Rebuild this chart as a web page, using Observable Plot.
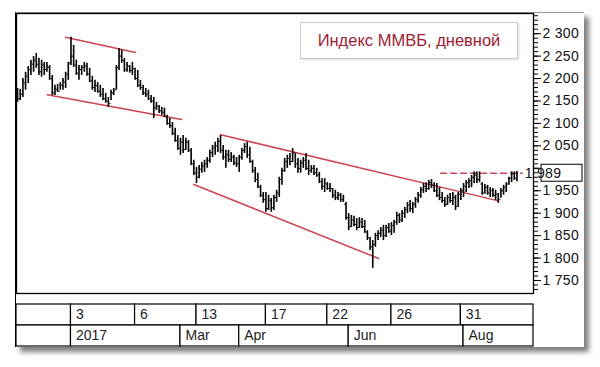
<!DOCTYPE html>
<html><head><meta charset="utf-8">
<script src="https://cdn.jsdelivr.net/npm/d3@7"></script>
<script src="https://cdn.jsdelivr.net/npm/@observablehq/plot@0.6"></script>
<style>
body{margin:0;background:#fff;}
#wrap{position:relative;width:600px;height:367px;overflow:hidden;background:#fff;font-family:"Liberation Sans",Arial,sans-serif;}
#panel{position:absolute;left:15px;top:12px;width:568px;height:334px;background:#fff;box-shadow:5px 5px 5px rgba(0,0,0,0.5);border-top:1px solid #999;border-left:1px solid #000;}
#main{position:absolute;left:0;top:0;}
#rows{position:absolute;left:0;top:300px;}
#title{position:absolute;left:300px;top:22px;width:218px;height:37px;box-sizing:border-box;border:1px solid #ccc;box-shadow:1px 1px 2px #ddd;background:#fff;color:#9e1b32;font-size:16.5px;text-align:center;line-height:35px;}
</style></head>
<body>
<div id="wrap"><div id="panel"></div><div id="main"></div><div id="rows"></div><div id="title">Индекс ММВБ, дневной</div></div>
<script>
// Daily OHLC of the MICEX index (bar index = trading day, Dec 2016 – Sep 2017)
const hi = [2178,2176,2200,2214,2227,2241,2249,2256,2245,2241, 2236,2236,2229,2207,2185,2187,2191,2200,2214,2236,
2292,2274,2241,2229,2229,2236,2234,2223,2205,2196, 2191,2185,2178,2167,2158,2174,2178,2229,2267,2263,
2245,2236,2229,2236,2223,2218,2196,2185,2178,2174, 2162,2158,2147,2140,2136,2134,2118,2111,2102,2089,
2073,2067,2073,2067,2062,2044,2018,2002,2006,2013, 2018,2024,2040,2051,2058,2067,2073,2051,2040,2040,
2035,2029,2024,2029,2044,2055,2058,2047,2018,2002, 1989,1962,1946,1946,1940,1933,1940,1951,1980,2000,
2022,2029,2033,2044,2033,2022,2018,2024,2033,2018, 2006,2006,2000,1991,1977,1977,1968,1966,1955,1951,
1946,1944,1940,1924,1899,1895,1893,1888,1890,1888, 1884,1861,1846,1839,1855,1861,1868,1873,1873,1877,
1879,1884,1902,1899,1906,1913,1924,1928,1924,1935, 1946,1957,1966,1968,1973,1975,1968,1966,1957,1946,
1935,1940,1944,1946,1940,1946,1955,1966,1973,1977, 1984,1992,1992,1992,1968,1964,1962,1957,1955,1951,
1944,1955,1962,1968,1980,1992,1992,1993];
const lo = [2147,2151,2158,2174,2189,2207,2214,2223,2207,2203, 2207,2214,2196,2162,2162,2169,2174,2174,2178,2196,
2229,2225,2207,2196,2207,2214,2205,2191,2174,2169, 2167,2158,2151,2145,2136,2151,2162,2174,2218,2234,
2214,2214,2212,2207,2196,2180,2174,2162,2158,2151, 2145,2111,2129,2122,2118,2113,2096,2089,2073,2058,
2040,2029,2033,2040,2035,2006,1984,1966,1977,1989, 1991,2000,2011,2024,2029,2035,2033,2018,2000,2013,
2013,2006,2002,1991,2018,2033,2022,2011,1989,1968, 1955,1935,1922,1902,1906,1902,1906,1924,1935,1962,
1991,2000,2006,2013,2000,1989,1989,2000,1995,1984, 1989,1984,1980,1966,1951,1946,1951,1946,1933,1928,
1928,1924,1924,1884,1861,1868,1870,1861,1866,1866, 1855,1839,1817,1777,1824,1839,1846,1839,1846,1855,
1850,1855,1873,1877,1879,1888,1899,1902,1899,1911, 1922,1933,1944,1946,1951,1955,1946,1935,1928,1922,
1913,1917,1922,1917,1906,1913,1928,1935,1946,1955, 1957,1966,1966,1968,1940,1942,1940,1935,1935,1928,
1922,1933,1940,1946,1962,1968,1973,1970];
const op = [2170,2155,2165,2190,2205,2220,2232,2240,2232,2215, 2230,2220,2225,2200,2168,2176,2172,2185,2192,2210,
2235,2250,2230,2212,2220,2225,2228,2210,2195,2180, 2184,2172,2165,2155,2150,2145,2168,2175,2225,2250,
2240,2220,2228,2218,2222,2200,2185,2180,2168,2165, 2155,2150,2135,2138,2128,2125,2115,2100,2095,2078,
2062,2045,2058,2042,2058,2040,2010,1990,1980,1998, 2005,2010,2018,2035,2045,2050,2060,2040,2025,2030,
2020,2025,2012,2010,2025,2040,2048,2030,2015,1995, 1975,1958,1940,1930,1910,1928,1912,1935,1945,1975,
1995,2015,2022,2015,2035,2010,2000,2012,2018,2000, 1995,2000,1990,1985,1970,1960,1965,1955,1955,1940,
1935,1940,1930,1920,1890,1870,1885,1875,1868,1880, 1870,1858,1845,1825,1830,1850,1855,1862,1850,1868,
1860,1872,1880,1895,1885,1900,1908,1918,1910,1920, 1930,1940,1952,1960,1955,1968,1962,1950,1940,1935,
1928,1920,1935,1928,1935,1915,1942,1950,1960,1968, 1972,1980,1985,1975,1965,1945,1958,1945,1950,1940,
1942,1930,1950,1958,1965,1978,1988,1978];
const cl = [2155,2168,2195,2208,2222,2235,2243,2230,2215,2232, 2220,2228,2200,2168,2178,2172,2186,2195,2210,2230,
2250,2232,2212,2222,2225,2230,2210,2195,2180,2185, 2172,2165,2155,2150,2140,2170,2172,2222,2250,2240,
2220,2230,2218,2225,2200,2185,2180,2168,2165,2155, 2150,2135,2140,2128,2125,2118,2100,2095,2078,2062,
2045,2060,2040,2060,2040,2010,1990,1980,2000,2005, 2010,2018,2035,2045,2050,2060,2040,2025,2030,2020,
2028,2012,2010,2025,2040,2048,2030,2015,1995,1975, 1960,1940,1930,1910,1930,1912,1935,1945,1975,1995,
2015,2022,2015,2035,2010,2000,2012,2018,2000,1995, 2000,1990,1985,1970,1960,1968,1955,1960,1940,1935,
1940,1930,1935,1890,1870,1885,1875,1868,1882,1870, 1860,1845,1825,1830,1850,1855,1862,1850,1868,1860,
1875,1880,1895,1885,1900,1908,1918,1910,1920,1930, 1940,1952,1960,1955,1968,1962,1950,1940,1935,1928,
1920,1935,1928,1940,1915,1942,1950,1960,1968,1972, 1980,1985,1975,1980,1945,1958,1945,1950,1940,1945,
1930,1950,1958,1965,1978,1988,1980,1989];

// Trend lines drawn by the analyst: [bar index, value]
const upper1 = [[17.95, 2292], [44.16, 2258]];
const lower1 = [[11.1, 2164], [61.4, 2109]];
const upper2 = [[76, 2075], [179.7, 1928]];
const lower2 = [[66, 1964], [135.2, 1799]];
const resist = [[158.4, 1989], [189, 1989]];

// Y axis
const yMajor = [1750,1800,1850,1900,1950,2000,2050,2100,2150,2200,2250,2300];
const yLabels = [1750,1800,1850,1900,1950,2050,2100,2150,2200,2250,2300];

// Bottom time rows: bar index where each cell starts, and its label
const weekIdx = [20, 44, 67, 93, 116, 140, 166];
const weekLbl = ["3", "6", "13", "17", "22", "26", "31"];
const monthIdx = [20, 61, 83, 124, 167];
const monthLbl = ["2017", "Mar", "Apr", "Jun", "Aug"];

const xDomain = [-0.4, 193.2];
const yDomain = [1721, 2345];
const fmt = d => d3.format(",")(d).replace(",", " ");
const bars = hi.map((h, i) => ({i, hi: h, lo: lo[i], o: op[i], c: cl[i]}));
const trend = [upper1, lower1, upper2, lower2].flatMap((seg, k) => seg.map(([i, v]) => ({i, v, k})));
const resistData = resist.map(([i, v]) => ({i, v}));
const lastValue = cl[cl.length - 1];
const red = "#cc4455";
const font = "'Liberation Sans', Arial, sans-serif";

function lastBox(index, scales, values, dimensions) {
  const y = scales.y(lastValue);
  const x0 = dimensions.width - dimensions.marginRight + 8;
  const g = d3.create("svg:g");
  g.append("rect").attr("x", x0).attr("y", y - 8.5).attr("width", 41).attr("height", 17)
    .attr("fill", "white").attr("stroke", "black");
  g.append("text").attr("x", x0 + 2).attr("y", y).attr("dy", "0.35em")
    .attr("font-size", 14).attr("letter-spacing", "0.3px").attr("fill", "#111").text(fmt(lastValue));
  return g.node();
}

const main = Plot.plot({
  width: 600, height: 300,
  marginLeft: 16, marginRight: 67, marginTop: 13, marginBottom: 7,
  style: {fontFamily: font, fontSize: "14px", color: "#111", background: "transparent", overflow: "visible", letterSpacing: "0.3px"},
  x: {domain: xDomain, axis: null},
  y: {domain: yDomain, axis: null},
  marks: [
    Plot.frame({stroke: "#000", strokeWidth: 1.3}),
    Plot.axisY(d3.range(1730, 2341, 10), {anchor: "right", tickSize: 4, tickFormat: () => "", stroke: "#000"}),
    Plot.axisY(yMajor, {anchor: "right", tickSize: 7, tickPadding: 2, stroke: "#000",
      tickFormat: d => yLabels.includes(d) ? fmt(d) : "", fontSize: 14}),
    Plot.line(trend, {x: "i", y: "v", z: "k", stroke: red, strokeWidth: 1.5}),
    Plot.line(resistData, {x: "i", y: "v", stroke: red, strokeWidth: 1.3, strokeDasharray: "6,4"}),
    Plot.ruleX(bars, {x: "i", y1: "lo", y2: "hi", stroke: "#000", strokeWidth: 1.6}),
    Plot.ruleY(bars, {x1: d => d.i - 0.5, x2: "i", y: "o", stroke: "#000", strokeWidth: 1}),
    Plot.ruleY(bars, {x1: "i", x2: d => d.i + 0.5, y: "c", stroke: "#000", strokeWidth: 1}),
    lastBox
  ]
});
document.getElementById("main").append(main);

function cells(idx, lbl, row) {
  const out = [{s: xDomain[0], e: idx[0], label: "", row}];
  idx.forEach((s, k) => out.push({s, e: k + 1 < idx.length ? idx[k + 1] : xDomain[1], label: lbl[k], row}));
  return out;
}
const rowData = [...cells(weekIdx, weekLbl, "w"), ...cells(monthIdx, monthLbl, "m")];

const rows = Plot.plot({
  width: 600, height: 67,
  marginLeft: 16, marginRight: 67, marginTop: 3, marginBottom: 21,
  style: {fontFamily: font, fontSize: "14px", color: "#111", background: "transparent"},
  x: {domain: xDomain, axis: null},
  y: {type: "band", domain: ["w", "m"], padding: 0, axis: null},
  marks: [
    Plot.barX(rowData, {x1: "s", x2: "e", y: "row", fill: "white", stroke: "#000", strokeWidth: 1.2}),
    Plot.text(rowData, {x: "s", y: "row", text: "label", textAnchor: "start", dx: 5, fill: "#222", fontSize: 14})
  ]
});
document.getElementById("rows").append(rows);
</script>
</body></html>
